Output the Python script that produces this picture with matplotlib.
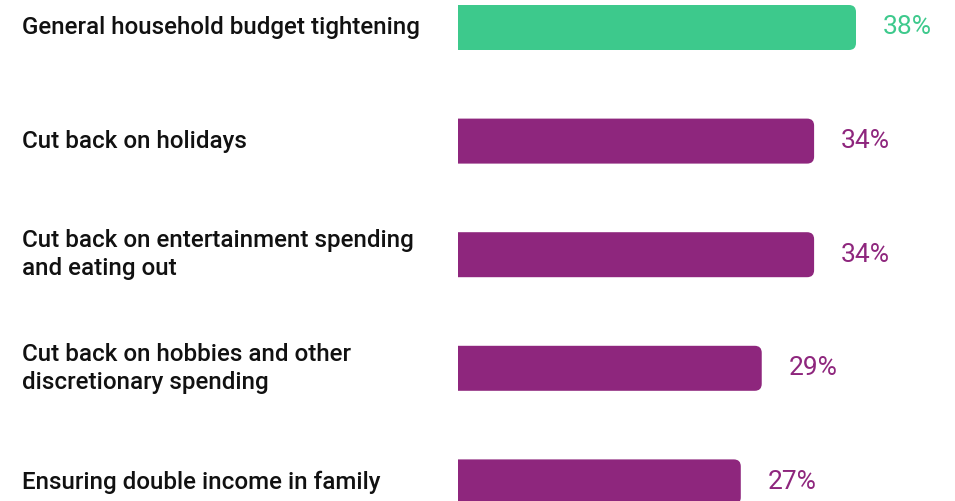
import matplotlib
matplotlib.use("Agg")
import matplotlib.pyplot as plt
from matplotlib.patches import PathPatch
from matplotlib.path import Path
import matplotlib.transforms as mtransforms

categories = [
    "General household budget tightening",
    "Cut back on holidays",
    "Cut back on entertainment spending\nand eating out",
    "Cut back on hobbies and other\ndiscretionary spending",
    "Ensuring double income in family",
]
values = [38, 34, 34, 29, 27]
colors = ["#3DC98C", "#8E267D", "#8E267D", "#8E267D", "#8E267D"]

W, H, DPI = 955, 501, 100
fig = plt.figure(figsize=(W / DPI, H / DPI), dpi=DPI)
fig.patch.set_facecolor("white")

x0_px, x38_px = 458, 856
ax = fig.add_axes([x0_px / W, 0, (x38_px - x0_px) / W, 1])
ax.set_xlim(0, 38)
spacing = 113.6
first_c = 27.5
ax.set_ylim((H - first_c) / spacing, -first_c / spacing)
ax.axis("off")

bar_h = 45 / spacing
px_per_x = (x38_px - x0_px) / 38
r_px = 7
rx = r_px / px_per_x
ry = r_px / spacing

for i, (v, c) in enumerate(zip(values, colors)):
    y0 = i - bar_h / 2
    y1 = i + bar_h / 2
    verts = [(0, y0), (v - rx, y0), (v, y0), (v, y0 + ry), (v, y1 - ry),
             (v, y1), (v - rx, y1), (0, y1), (0, y0)]
    codes = [Path.MOVETO, Path.LINETO, Path.CURVE3, Path.CURVE3, Path.LINETO,
             Path.CURVE3, Path.CURVE3, Path.LINETO, Path.CLOSEPOLY]
    ax.add_patch(PathPatch(Path(verts, codes), fc=c, ec="none", clip_on=False))
    ax.annotate(f"{v}%", xy=(v, i), xytext=(27, 0), textcoords="offset pixels",
                ha="left", va="center", fontsize=19, color=c,
                family="Roboto", annotation_clip=False)

trans = mtransforms.blended_transform_factory(fig.transFigure, ax.transData)
for i, lab in enumerate(categories):
    fig.text(22 / W, i, lab, transform=trans, ha="left", va="center",
             fontsize=17.4, family="Roboto", fontweight="medium",
             color="#111111", linespacing=1.3)

fig.savefig("out.png", dpi=DPI)
